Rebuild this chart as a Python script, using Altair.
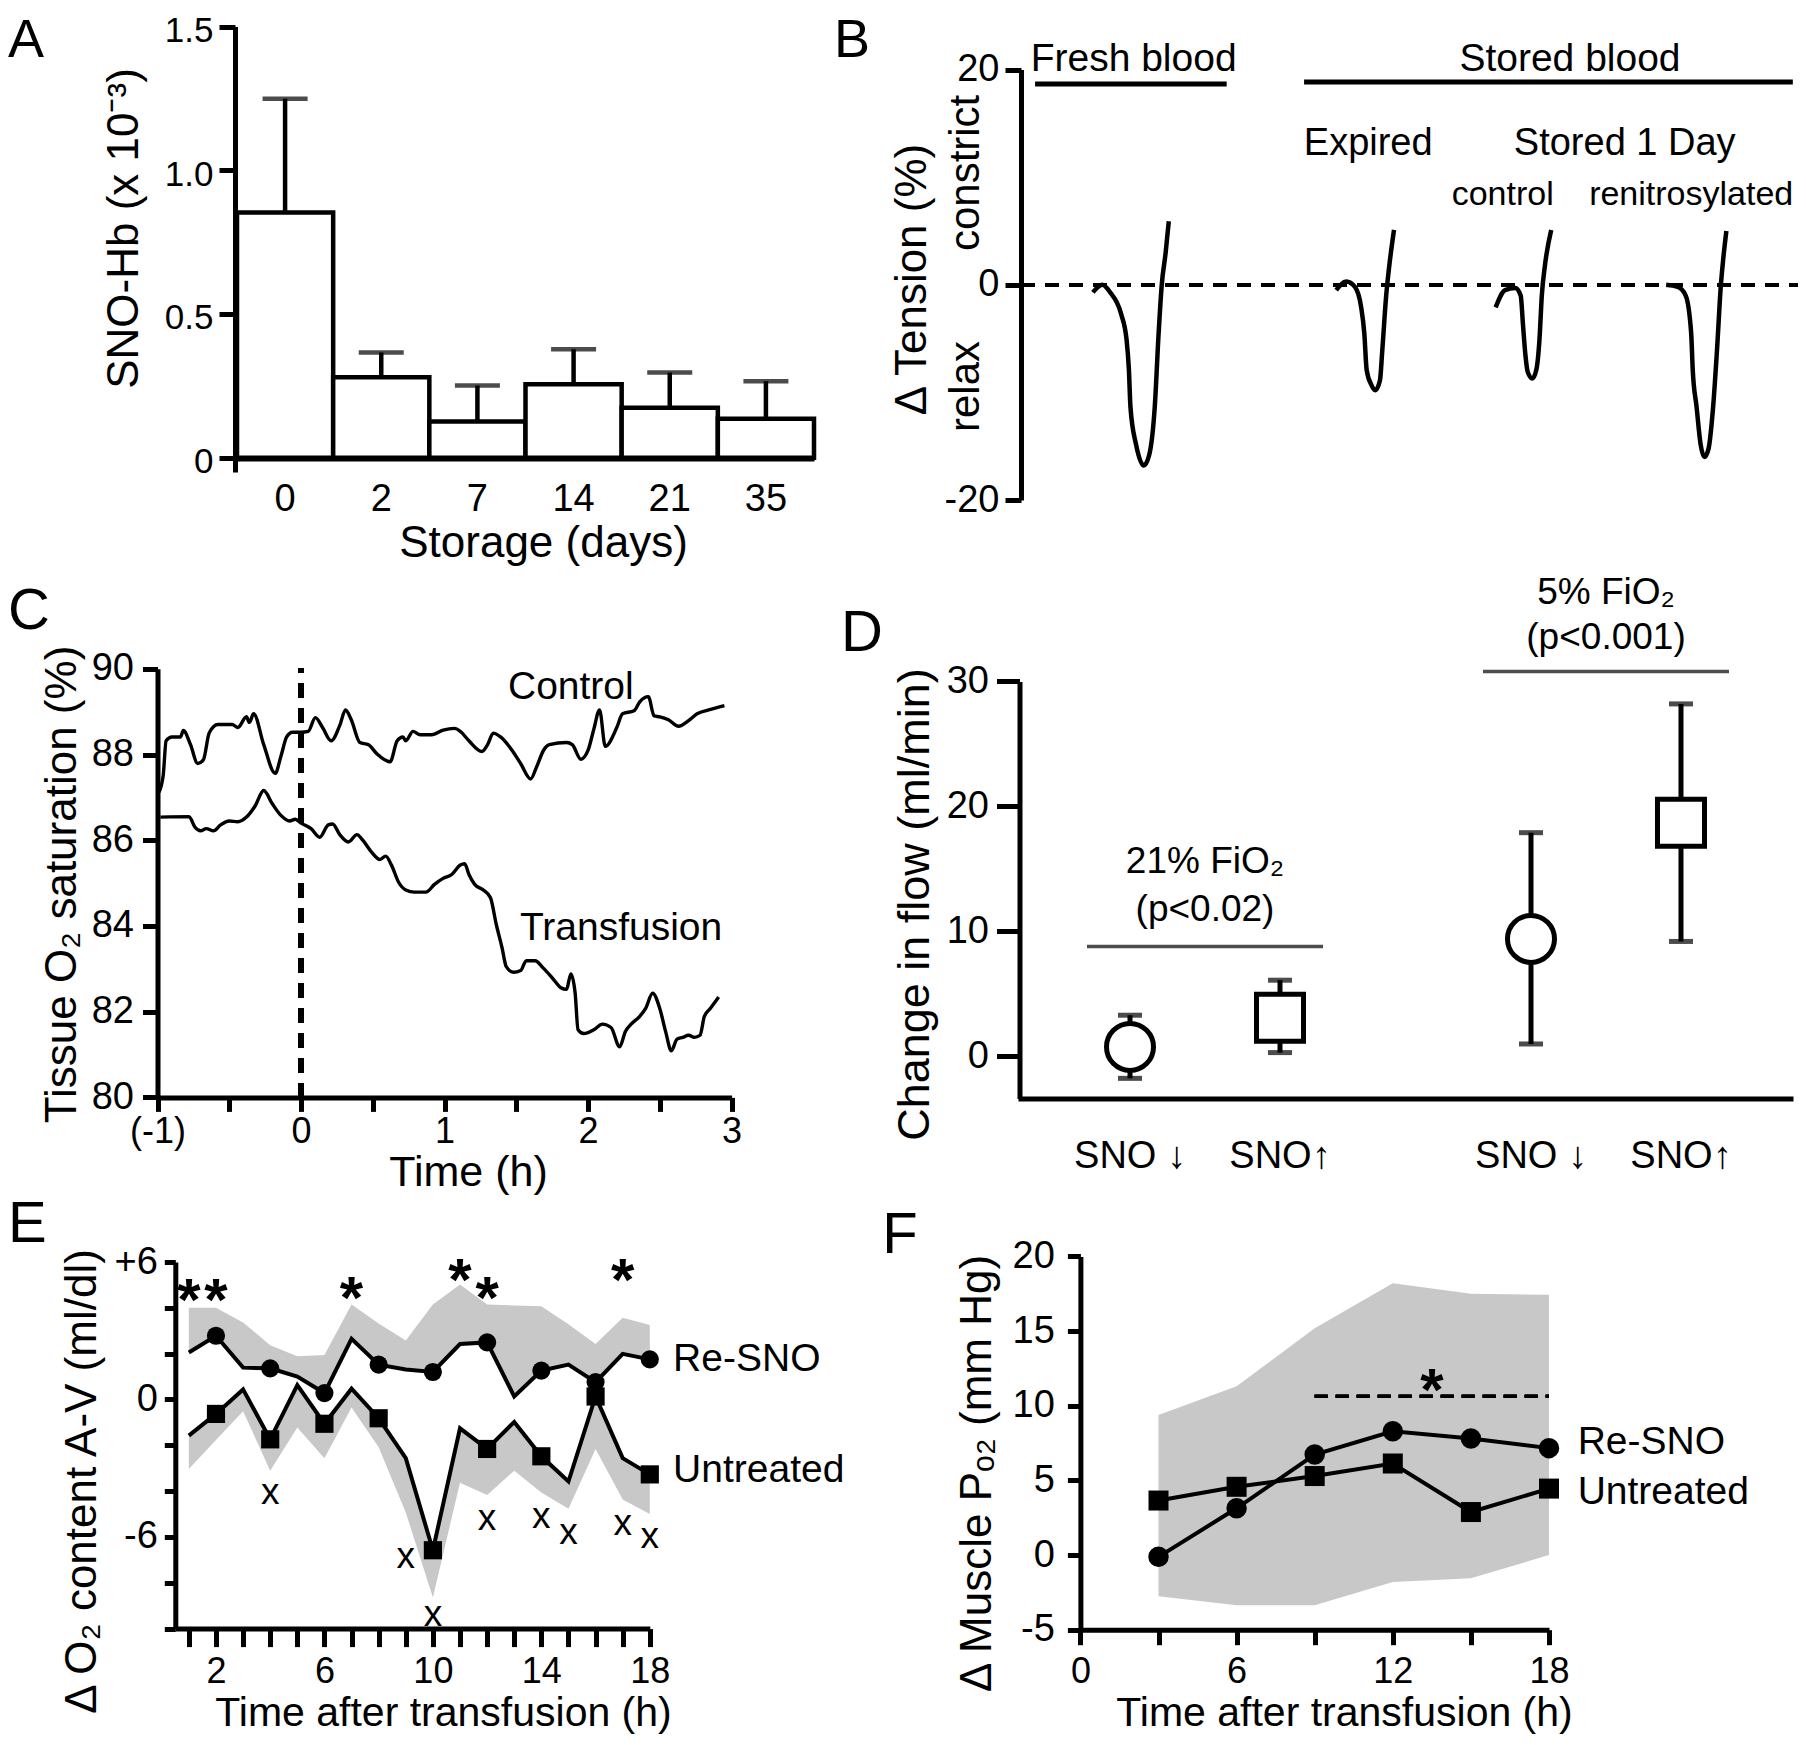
import altair as alt
import pandas as pd

FONT = "Liberation Sans"
NARROW = "Liberation Sans Narrow, Arial Narrow, Liberation Sans"
W, H = 1790, 1729
GREY = "#c8c8c8"


def px(v):
    # page pixel -> chart pixel (page has an 8px margin)
    return v - 8


# ===================== Panel A =====================
A_days = ["0", "2", "7", "14", "21", "35"]
A_mean = [0.853, 0.280, 0.126, 0.255, 0.174, 0.135]
A_upper = [1.249, 0.366, 0.251, 0.377, 0.296, 0.266]
dfA = pd.DataFrame({"day": A_days, "mean": A_mean, "upper": A_upper})

A_xs = alt.Scale(domain=A_days, range=[px(237), px(814)], paddingInner=0, paddingOuter=0)
A_xa = alt.Axis(orient="bottom", offset=px(458) - H, ticks=False, tickSize=0, labelAngle=0,
                labelPadding=52, labelBaseline="alphabetic", domainWidth=6,
                title="Storage (days)", titleX=px(543), titleY=98, titleAlign="center",
                titleBaseline="alphabetic")
A_ys = alt.Scale(domain=[-0.05, 1.5], range=[px(472), px(26.6)], nice=False, zero=False)
A_ya = alt.Axis(orient="left", offset=-px(235), values=[0, 0.5, 1.0, 1.5],
                labelExpr="datum.value == 0 ? '0' : format(datum.value, '.1f')",
                tickSize=16, labelPadding=6, labelFontSize=35, labelOffset=4, title="SNO-Hb (x 10⁻³)",
                titleX=px(124) - px(235), titleY=px(228), titleAngle=270,
                titleAlign="center", titleBaseline="middle")


def Ax(f):
    return alt.X(f, type="nominal", sort=A_days, scale=A_xs, axis=A_xa)


def Ay(f):
    return alt.Y(f, type="quantitative", scale=A_ys, axis=A_ya)


baseA = alt.Chart(dfA)
A_bars = baseA.mark_bar(fill="white", stroke="black", strokeWidth=4.5).encode(
    x=Ax("day"), y=Ay("mean"), y2=alt.datum(0))
A_err = baseA.mark_rule(color="black", strokeWidth=4.5).encode(
    x=Ax("day"), y=Ay("mean"), y2=alt.Y2("upper"))
A_cap = baseA.mark_tick(color="black", orient="horizontal", size=45, thickness=4.5).encode(
    x=Ax("day"), y=Ay("upper"))
panelA = alt.layer(A_bars, A_err, A_cap)

# ===================== Panel B =====================
B_fresh_t = [9.2, 10.4, 11.4, 12.8, 13.5, 13.8, 14.0, 14.7, 15.7, 16.4, 17.1, 17.6, 18.0, 18.5, 18.9]
B_fresh_v = [-0.7, 0.0, -0.7, -2.7, -5.1, -7.9, -11.4, -14.8, -16.8, -15.8, -11.4, -4.5, 0.0, 3.0, 5.9]
B_exp_t = [40.3, 41.6, 42.7, 43.5, 43.9, 44.2, 44.8, 45.3, 45.9, 46.2, 46.7, 47.1, 47.7]
B_exp_v = [-0.5, 0.3, -0.2, -2.1, -4.5, -7.9, -9.3, -9.8, -8.9, -6.1, -1.0, 1.8, 5.1]
B_ctl_t = [60.7, 61.9, 63.2, 63.9, 64.2, 64.5, 64.8, 65.4, 65.9, 66.3, 66.6, 67.0, 67.8]
B_ctl_v = [-2.1, -0.5, -0.3, -1.0, -3.8, -6.5, -8.1, -8.7, -7.9, -5.1, -1.0, 1.8, 5.1]
B_ren_t = [82.5, 84.0, 85.0, 85.7, 85.9, 86.4, 86.9, 87.4, 87.9, 88.5, 89.0, 89.5, 89.8, 90.2]
B_ren_v = [0.0, -0.2, -1.0, -4.5, -7.9, -11.4, -14.8, -16.0, -15.3, -11.4, -6.1, 0.0, 2.4, 5.0]

rowsB = []
for name, ts, vs in [("fresh", B_fresh_t, B_fresh_v), ("expired", B_exp_t, B_exp_v),
                     ("control", B_ctl_t, B_ctl_v), ("renitrosylated", B_ren_t, B_ren_v)]:
    for t, v in zip(ts, vs):
        rowsB.append({"trace": name, "t": t, "v": v})
dfB = pd.DataFrame(rowsB)

B_group_names = ["Fresh blood", "Stored blood"]
B_group_start = [1.8, 36.2]
B_group_end = [26.3, 98.7]
B_group_y = [18.66, 18.85]
dfB_groups = pd.DataFrame({"label": B_group_names, "x1": B_group_start, "x2": B_group_end,
                           "y": B_group_y, "tx": [14.4, 70.2], "ty": [19.9, 19.9]})
dfB_sub = pd.DataFrame({"label": ["Expired", "Stored 1 Day"], "tx": [44.4, 77.2], "ty": [12.1, 12.1]})
dfB_sub2 = pd.DataFrame({"label": ["control", "renitrosylated"], "tx": [61.6, 85.7], "ty": [7.42, 7.42]})
dfB_dir = pd.DataFrame({"label": ["constrict", "relax"], "tx": [-7.0, -7.0], "ty": [10.4, -9.45]})

B_xs = alt.Scale(domain=[0, 100], range=[px(1021), px(1803)], nice=False, zero=False)
B_ys = alt.Scale(domain=[-20, 20], range=[px(500), px(69.6)], nice=False, zero=False)
B_ya = alt.Axis(orient="left", offset=-px(1021), values=[-20, 0, 20], labelExpr="'' + datum.value",
                tickSize=16, labelPadding=6, title="Δ Tension (%)",
                titleX=px(912) - px(1021), titleY=px(279), titleAngle=270,
                titleAlign="center", titleBaseline="middle")


def Bx(f):
    return alt.X(f, type="quantitative", scale=B_xs, axis=None)


def By(f):
    return alt.Y(f, type="quantitative", scale=B_ys, axis=B_ya)


B_zero = alt.Chart(dfB).mark_rule(color="black", strokeWidth=3.5, strokeDash=[14, 10]).encode(
    x=alt.X(datum=0, type="quantitative", scale=B_xs, axis=None), x2=alt.datum(100),
    y=alt.Y(datum=0, type="quantitative", scale=B_ys, axis=B_ya))
B_lines = alt.Chart(dfB).mark_line(color="black", strokeWidth=4.5, interpolate="monotone").encode(
    x=Bx("t"), y=By("v"), detail="trace:N")
B_bars = alt.Chart(dfB_groups).mark_rule(color="black", strokeWidth=5).encode(
    x=Bx("x1"), x2=alt.X2("x2"), y=By("y"))
B_txt1 = alt.Chart(dfB_groups).mark_text(fontSize=39, baseline="alphabetic", align="center").encode(
    x=Bx("tx"), y=By("ty"), text="label:N")
B_txt2 = alt.Chart(dfB_sub).mark_text(fontSize=38, baseline="alphabetic", align="center").encode(
    x=Bx("tx"), y=By("ty"), text="label:N")
B_txt3 = alt.Chart(dfB_sub2).mark_text(fontSize=34, baseline="alphabetic", align="center").encode(
    x=Bx("tx"), y=By("ty"), text="label:N")
B_txt4 = alt.Chart(dfB_dir).mark_text(fontSize=42, baseline="middle", align="center", angle=270).encode(
    x=Bx("tx"), y=By("ty"), text="label:N")
panelB = alt.layer(B_zero, B_lines, B_bars, B_txt1, B_txt2, B_txt3, B_txt4)

# ===================== Panel C =====================
C_ctrl_h = [-0.99, -0.96, -0.94, -0.90, -0.84, -0.82, -0.77, -0.72, -0.68, -0.64, -0.58, -0.48, -0.44,
            -0.38, -0.36, -0.33, -0.26, -0.18, -0.14, -0.10, -0.06, 0.00, 0.05, 0.10, 0.15, 0.21,
            0.27, 0.31, 0.35, 0.41, 0.47, 0.53, 0.62, 0.67, 0.71, 0.73, 0.78, 0.83, 0.91, 0.99,
            1.07, 1.11, 1.17, 1.26, 1.30, 1.34, 1.39, 1.47, 1.53, 1.60, 1.64, 1.69, 1.73, 1.85,
            1.89, 1.95, 2.00, 2.04, 2.08, 2.12, 2.20, 2.24, 2.32, 2.36, 2.42, 2.46, 2.50, 2.56,
            2.63, 2.70, 2.76, 2.84, 2.95]
C_ctrl_v = [87.12, 87.52, 88.32, 88.41, 88.41, 88.56, 88.23, 87.79, 87.88, 88.50, 88.70, 88.70, 88.63,
            88.88, 88.75, 88.95, 88.23, 87.56, 87.96, 88.41, 88.52, 88.52, 88.54, 88.86, 88.63, 88.32,
            88.68, 89.04, 88.81, 88.28, 88.23, 88.01, 87.83, 88.32, 88.41, 88.32, 88.54, 88.46, 88.46,
            88.57, 88.61, 88.54, 88.32, 88.07, 88.23, 88.50, 88.41, 88.10, 87.79, 87.43, 87.70, 88.10,
            88.23, 88.28, 88.23, 87.89, 88.10, 88.59, 89.04, 88.19, 88.63, 88.95, 89.02, 89.23, 89.35,
            88.90, 88.88, 88.81, 88.66, 88.79, 88.95, 89.04, 89.14]
C_tr_h = [-0.98, -0.78, -0.74, -0.70, -0.66, -0.61, -0.56, -0.50, -0.44, -0.38, -0.32, -0.26, -0.20,
          -0.14, -0.08, -0.04, 0.00, 0.07, 0.13, 0.19, 0.22, 0.27, 0.33, 0.39, 0.43, 0.49, 0.55, 0.59,
          0.63, 0.68, 0.73, 0.79, 0.87, 0.93, 0.99, 1.05, 1.11, 1.14, 1.17, 1.21, 1.27, 1.32, 1.36,
          1.40, 1.43, 1.48, 1.53, 1.57, 1.63, 1.69, 1.75, 1.81, 1.85, 1.88, 1.91, 1.93, 1.97, 2.04,
          2.10, 2.16, 2.22, 2.26, 2.30, 2.36, 2.40, 2.45, 2.50, 2.54, 2.58, 2.62, 2.66, 2.70, 2.74,
          2.78, 2.81, 2.85, 2.91]
C_tr_v = [86.54, 86.55, 86.31, 86.22, 86.27, 86.22, 86.36, 86.45, 86.43, 86.54, 86.80, 87.16, 86.85,
          86.58, 86.45, 86.49, 86.40, 86.27, 86.07, 86.36, 86.38, 86.13, 85.96, 86.13, 86.00, 85.73,
          85.55, 85.63, 85.42, 85.02, 84.84, 84.79, 84.79, 84.97, 85.11, 85.20, 85.42, 85.45, 85.20,
          84.97, 84.84, 84.66, 84.04, 83.50, 83.05, 82.92, 82.96, 83.19, 83.19, 83.01, 82.79, 82.56,
          82.52, 82.88, 82.43, 81.58, 81.49, 81.58, 81.71, 81.63, 81.18, 81.54, 81.71, 81.89, 82.07,
          82.43, 82.07, 81.54, 81.09, 81.36, 81.40, 81.45, 81.40, 81.45, 81.89, 82.07, 82.34]
dfC = pd.concat([
    pd.DataFrame({"series": "Control", "h": C_ctrl_h, "v": C_ctrl_v}),
    pd.DataFrame({"series": "Transfusion", "h": C_tr_h, "v": C_tr_v}),
], ignore_index=True)
dfC_lab = pd.DataFrame({"label": ["Control", "Transfusion"], "h": [1.88, 2.23], "v": [89.30, 83.67]})

C_xs = alt.Scale(domain=[-1, 3], range=[px(157.5), px(731.6)], nice=False, zero=False)
C_xa = alt.Axis(orient="bottom", offset=px(1097.4) - H, values=[-1, -0.5, 0, 0.5, 1, 1.5, 2, 2.5, 3],
                labelExpr="datum.value == -1 ? '(-1)' : (datum.value % 1 == 0 ? format(datum.value, 'd') : '')",
                tickSize=14, labelPadding=31, labelBaseline="alphabetic", labelFontSize=36,
                title="Time (h)", titleX=px(468), titleY=88, titleAlign="center",
                titleBaseline="alphabetic", titleFontSize=43)
C_ys = alt.Scale(domain=[80, 90], range=[px(1097.4), px(668.8)], nice=False, zero=False)
C_ya = alt.Axis(orient="left", offset=-px(157.5), values=[80, 82, 84, 86, 88, 90],
                tickSize=15, labelPadding=9, title="Tissue O₂ saturation (%)",
                titleX=px(62) - px(157.5), titleY=px(884), titleAngle=270,
                titleAlign="center", titleBaseline="middle")


def Cx(f):
    return alt.X(f, type="quantitative", scale=C_xs, axis=C_xa)


def Cy(f):
    return alt.Y(f, type="quantitative", scale=C_ys, axis=C_ya)


C_dash = alt.Chart(dfC).mark_rule(color="black", strokeWidth=4.5, strokeDash=[14, 11]).encode(
    x=alt.X(datum=0, type="quantitative", scale=C_xs, axis=C_xa),
    y=alt.Y(datum=80, type="quantitative", scale=C_ys, axis=C_ya), y2=alt.datum(90))
C_lines = alt.Chart(dfC).mark_line(color="black", strokeWidth=3.4, interpolate="monotone").encode(
    x=Cx("h"), y=Cy("v"), detail="series:N")
C_text = alt.Chart(dfC_lab).mark_text(fontSize=39, baseline="alphabetic", align="center").encode(
    x=Cx("h"), y=Cy("v"), text="label:N")
panelC = alt.layer(C_dash, C_lines, C_text)

# ===================== Panel D =====================
D_group_order = ["21%", "5%"]
D_cond_order = ["SNO ↓", "SNO↑"]
D_group = ["21%", "21%", "5%", "5%"]
D_cond = ["SNO ↓", "SNO↑", "SNO ↓", "SNO↑"]
D_mean = [0.76, 3.1, 9.4, 18.7]
D_lo = [-1.75, 0.31, 1.0, 9.2]
D_hi = [3.3, 6.1, 17.9, 28.2]
dfD = pd.DataFrame({"group": D_group, "cond": D_cond, "mean": D_mean, "lo": D_lo, "hi": D_hi})
dfD_br = pd.DataFrame({"group": ["21%", "5%"], "y": [8.8, 30.8]})
dfD_note = pd.DataFrame({"group": ["21%", "21%", "5%", "5%"],
                         "label": ["21% FiO₂", "(p<0.02)", "5% FiO₂", "(p<0.001)"],
                         "y": [14.67, 10.86, 36.17, 32.57]})

D_xs = alt.Scale(domain=D_group_order, range=[px(1018), px(1793)], paddingInner=0.0673, paddingOuter=0)
D_os = alt.Scale(domain=D_cond_order, paddingInner=0, paddingOuter=0.2467)
D_xa = alt.Axis(orient="bottom", offset=px(1098.6) - H, labels=False, ticks=False, tickSize=0,
                title="", domainWidth=5)
D_ys = alt.Scale(domain=[-3.37, 30], range=[px(1098.6), px(681.4)], nice=False, zero=False)
D_ya = alt.Axis(orient="left", offset=-px(1019.5), values=[0, 10, 20, 30], tickSize=23, labelPadding=8,
                title="Change in flow (ml/min)", titleX=px(914) - px(1019.5), titleY=px(904),
                titleAngle=270, titleAlign="center", titleBaseline="middle", titleFontSize=45)


def Dx(f):
    return alt.X(f, type="nominal", sort=D_group_order, scale=D_xs, axis=D_xa)


def Do(f):
    return alt.XOffset(f, type="nominal", sort=D_cond_order, scale=D_os)


def Dy(f):
    return alt.Y(f, type="quantitative", scale=D_ys, axis=D_ya)


baseD = alt.Chart(dfD)
D_err = baseD.mark_rule(color="black", strokeWidth=5).encode(
    x=Dx("group"), xOffset=Do("cond"), y=Dy("lo"), y2=alt.Y2("hi"))
D_caplo = baseD.mark_tick(color="black", orient="horizontal", size=24, thickness=5).encode(
    x=Dx("group"), xOffset=Do("cond"), y=Dy("lo"))
D_caphi = baseD.mark_tick(color="black", orient="horizontal", size=24, thickness=5).encode(
    x=Dx("group"), xOffset=Do("cond"), y=Dy("hi"))
D_pts = baseD.mark_point(filled=True, fill="white", stroke="black", strokeWidth=5, size=2209, opacity=1).encode(
    x=Dx("group"), xOffset=Do("cond"), y=Dy("mean"),
    shape=alt.Shape("cond:N", scale=alt.Scale(domain=D_cond_order, range=["circle", "square"]), legend=None))
D_br1 = alt.Chart(dfD_br).mark_tick(color="black", orient="horizontal", size=236, thickness=3.5).encode(
    x=Dx("group"), y=Dy("y")).transform_filter("datum.group == '21%'")
D_br2 = alt.Chart(dfD_br).mark_tick(color="black", orient="horizontal", size=246, thickness=3.5).encode(
    x=Dx("group"), y=Dy("y")).transform_filter("datum.group == '5%'")
D_note = alt.Chart(dfD_note).mark_text(fontSize=37, baseline="alphabetic", align="center").encode(
    x=Dx("group"), y=Dy("y"), text="label:N")
D_lab = baseD.mark_text(fontSize=38, baseline="alphabetic", align="center").encode(
    x=Dx("group"), xOffset=Do("cond"),
    y=alt.Y(datum=-8.91, type="quantitative", scale=D_ys, axis=D_ya), text="cond:N")
panelD = alt.layer(D_err, D_caplo, D_caphi, D_pts, D_br1, D_br2, D_note, D_lab)

# ===================== Panel E =====================
E_hour = list(range(1, 19))
E_resno = [2.05, 2.78, 1.39, 1.36, 1.00, 0.28, 2.65, 1.52, 1.31, 1.20, 2.42, 2.49, 0.13, 1.26, 1.52, 0.76, 1.99, 1.75]
E_resno_up = [4.0, 4.0, 3.36, 2.37, 1.89, 1.94, 4.15, 3.32, 2.57, 4.15, 5.02, 4.15, 4.10, 4.07, 3.28, 2.42, 3.57, 3.25]
E_untr = [-1.58, -0.63, 0.44, -1.74, 0.63, -1.06, 0.47, -0.82, -2.56, -6.58, -1.26, -2.16, -0.98, -2.48, -3.58, 0.13, -2.56, -3.27]
E_untr_lo = [-3.03, -1.77, -0.51, -3.11, -1.22, -2.56, -0.35, -2.08, -4.93, -8.64, -3.63, -4.17, -3.11, -4.06, -4.77, -2.16, -4.37, -5.00]
dfE = pd.DataFrame({"hour": E_hour, "resno": E_resno, "resno_up": E_resno_up,
                    "untr": E_untr, "untr_lo": E_untr_lo})
E_star_h = [1, 2, 7, 11, 12, 17]
E_star_v = [4.94, 4.94, 5.02, 5.81, 5.02, 5.81]
E_x_h = [4, 9, 10, 12, 14, 15, 17, 18]
E_x_v = [-4.14, -6.9, -9.43, -5.24, -5.16, -5.87, -5.48, -6.03]
dfE_star = pd.DataFrame({"hour": E_star_h, "v": E_star_v, "t": "*"})
dfE_x = pd.DataFrame({"hour": E_x_h, "v": E_x_v, "t": "x"})
dfE_lab = pd.DataFrame({"label": ["Re-SNO", "Untreated"], "hour": [18.86, 18.86], "v": [1.84, -2.98]})

E_xs = alt.Scale(domain=[0.5, 18], range=[px(175.3), px(649.8)], nice=False, zero=False)
E_xa = alt.Axis(orient="bottom", offset=px(1628.6) - H, values=E_hour,
                labelExpr="(datum.value - 2) % 4 == 0 ? format(datum.value, 'd') : ''",
                tickSize=18, labelPadding=36, labelBaseline="alphabetic", labelFontSize=36,
                title="Time after transfusion (h)", titleX=px(443), titleY=97,
                titleAlign="center", titleBaseline="alphabetic", titleFontSize=41)
E_ys = alt.Scale(domain=[-10, 6], range=[px(1628.6), px(1262)], nice=False, zero=False)
E_ya = alt.Axis(orient="left", offset=-px(175.3), values=[-10, -8, -6, -4, -2, 0, 2, 4, 6],
                labelExpr="datum.value == 6 ? '+6' : (datum.value == 0 ? '0' : (datum.value == -6 ? '-6' : ''))",
                tickSize=11, labelPadding=7, title="Δ O₂ content A-V (ml/dl)",
                titleX=px(82) - px(175.3), titleY=px(1481), titleAngle=270,
                titleAlign="center", titleBaseline="middle")


def Ex(f):
    return alt.X(f, type="quantitative", scale=E_xs, axis=E_xa)


def Ey(f):
    return alt.Y(f, type="quantitative", scale=E_ys, axis=E_ya)


baseE = alt.Chart(dfE)
E_band1 = baseE.mark_area(color=GREY, opacity=1).encode(x=Ex("hour"), y=Ey("resno"), y2=alt.Y2("resno_up"))
E_band2 = baseE.mark_area(color=GREY, opacity=1).encode(x=Ex("hour"), y=Ey("untr_lo"), y2=alt.Y2("untr"))
E_line1 = baseE.mark_line(color="black", strokeWidth=4).encode(x=Ex("hour"), y=Ey("resno"))
E_line2 = baseE.mark_line(color="black", strokeWidth=4).encode(x=Ex("hour"), y=Ey("untr"))
E_pt1 = baseE.mark_point(shape="circle", filled=True, color="black", size=330, opacity=1).encode(
    x=Ex("hour"), y=Ey("resno")).transform_filter("datum.hour % 2 == 0")
E_pt2 = baseE.mark_point(shape="square", filled=True, color="black", size=330, opacity=1).encode(
    x=Ex("hour"), y=Ey("untr")).transform_filter("datum.hour % 2 == 0")
E_stars = alt.Chart(dfE_star).mark_text(fontSize=60, fontWeight="bold", baseline="middle", dy=16).encode(
    x=Ex("hour"), y=Ey("v"), text="t:N")
E_xs_t = alt.Chart(dfE_x).mark_text(fontSize=37, baseline="middle", dy=-1).encode(
    x=Ex("hour"), y=Ey("v"), text="t:N")
E_lab = alt.Chart(dfE_lab).mark_text(fontSize=39, baseline="middle", align="left", dy=2).encode(
    x=Ex("hour"), y=Ey("v"), text="label:N")
panelE = alt.layer(E_band1, E_band2, E_line1, E_line2, E_pt1, E_pt2, E_stars, E_xs_t, E_lab)

# ===================== Panel F =====================
F_hour = [3, 6, 9, 12, 15, 18]
F_resno = [-0.12, 3.13, 6.73, 8.29, 7.81, 7.16]
F_untr = [3.65, 4.57, 5.29, 6.13, 2.88, 4.45]
F_upper = [9.38, 11.3, 15.19, 18.2, 17.5, 17.43]
F_lower = [-2.76, -3.37, -3.37, -1.8, -1.56, 0.0]
dfF = pd.DataFrame({"hour": F_hour, "resno": F_resno, "untr": F_untr, "up": F_upper, "lo": F_lower})
dfF_lab = pd.DataFrame({"label": ["Re-SNO", "Untreated"], "hour": [19.1, 19.1], "v": [7.69, 4.34]})
dfF_star = pd.DataFrame({"hour": [13.5], "v": [12.0], "t": ["*"]})

F_xs = alt.Scale(domain=[0, 18], range=[px(1080.4), px(1549)], nice=False, zero=False)
F_xa = alt.Axis(orient="bottom", offset=px(1629.7) - H, values=[0, 3, 6, 9, 12, 15, 18],
                labelExpr="datum.value % 6 == 0 ? format(datum.value, 'd') : ''",
                tickSize=15, labelPadding=38, labelBaseline="alphabetic", labelFontSize=36,
                title="Time after transfusion (h)", titleX=px(1344), titleY=96,
                titleAlign="center", titleBaseline="alphabetic", titleFontSize=41)
F_ys = alt.Scale(domain=[-5, 20], range=[px(1629.7), px(1256.4)], nice=False, zero=False)
F_ya = alt.Axis(orient="left", offset=-px(1080.4), values=[-5, 0, 5, 10, 15, 20],
                labelExpr="'' + datum.value", tickSize=13, labelPadding=13,
                title="Δ Muscle Pₒ₂ (mm Hg)", titleX=px(977) - px(1080.4), titleY=px(1473),
                titleAngle=270, titleAlign="center", titleBaseline="middle")


def Fx(f):
    return alt.X(f, type="quantitative", scale=F_xs, axis=F_xa)


def Fy(f):
    return alt.Y(f, type="quantitative", scale=F_ys, axis=F_ya)


baseF = alt.Chart(dfF)
F_band = baseF.mark_area(color=GREY, opacity=1).encode(x=Fx("hour"), y=Fy("lo"), y2=alt.Y2("up"))
F_dash = baseF.mark_rule(color="black", strokeWidth=3, strokeDash=[13, 8]).encode(
    x=alt.X(datum=9, type="quantitative", scale=F_xs, axis=F_xa), x2=alt.datum(18),
    y=alt.Y(datum=10.63, type="quantitative", scale=F_ys, axis=F_ya))
F_line1 = baseF.mark_line(color="black", strokeWidth=4).encode(x=Fx("hour"), y=Fy("resno"))
F_line2 = baseF.mark_line(color="black", strokeWidth=4).encode(x=Fx("hour"), y=Fy("untr"))
F_pt1 = baseF.mark_point(shape="circle", filled=True, color="black", size=420, opacity=1).encode(
    x=Fx("hour"), y=Fy("resno"))
F_pt2 = baseF.mark_point(shape="square", filled=True, color="black", size=400, opacity=1).encode(
    x=Fx("hour"), y=Fy("untr"))
F_star = alt.Chart(dfF_star).mark_text(fontSize=60, fontWeight="bold", baseline="middle", dy=16).encode(
    x=Fx("hour"), y=Fy("v"), text="t:N")
F_lab = alt.Chart(dfF_lab).mark_text(fontSize=39, baseline="middle", align="left", dy=2).encode(
    x=Fx("hour"), y=Fy("v"), text="label:N")
panelF = alt.layer(F_band, F_dash, F_line1, F_line2, F_pt1, F_pt2, F_star, F_lab)

# ===================== Panel letters =====================
letters = []
for letter, lx, ly, fs, al in [("A", 8, 57, 54, "left"), ("B", 852, 57, 54, "center"),
                               ("C", 8, 629, 58, "left"), ("D", 862, 651, 58, "center"),
                               ("E", 8, 1242, 58, "left"), ("F", 900, 1253, 58, "center")]:
    letters.append(
        alt.Chart(pd.DataFrame({"t": [letter]})).mark_text(
            fontSize=fs, align=al, baseline="alphabetic").encode(
            text="t:N", x=alt.value(px(lx)), y=alt.value(px(ly))))

chart = alt.layer(panelA, panelB, panelC, panelD, panelE, panelF, *letters).resolve_scale(
    x="independent", y="independent"
).properties(
    width=W, height=H, autosize=alt.AutoSizeParams(type="none"), padding=0
).configure_view(stroke=None).configure_axis(
    grid=False, domainColor="black", tickColor="black", labelColor="black", titleColor="black",
    labelFont=NARROW, titleFont=FONT, labelFontSize=38, titleFontSize=44, titleFontWeight="normal",
    domainWidth=5, tickWidth=5, labelFlush=False, labelOverlap=False
).configure_text(font=FONT, color="black")

chart.save("out.html", embed_options={"renderer": "svg", "actions": False})
